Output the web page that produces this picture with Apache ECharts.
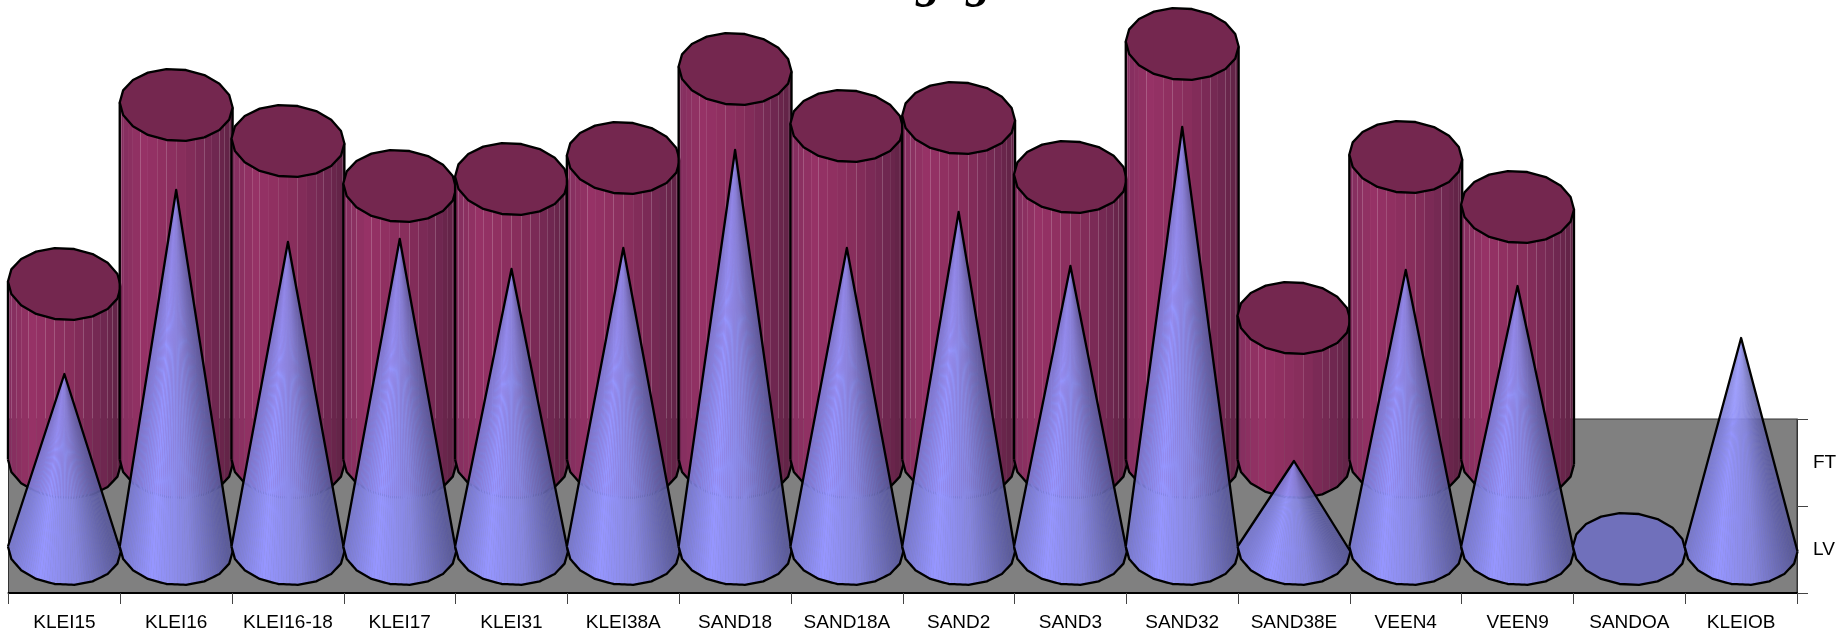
<!DOCTYPE html>
<html>
<head>
<meta charset="utf-8">
<title>FT and LV by site</title>
<script src="https://cdn.jsdelivr.net/npm/echarts@6/dist/echarts.min.js"></script>
<style>
  html, body { margin: 0; padding: 0; background: #fff; }
  #chart { width: 1848px; height: 636px; }
</style>
</head>
<body>
<div id="chart"></div>
<script>
// Sites along the front axis and the two rows along the depth axis
const categories = ['KLEI15', 'KLEI16', 'KLEI16-18', 'KLEI17', 'KLEI31', 'KLEI38A', 'SAND18', 'SAND18A',
  'SAND2', 'SAND3', 'SAND32', 'SAND38E', 'VEEN4', 'VEEN9', 'SANDOA', 'KLEIOB'];
const depthRows = ['LV', 'FT'];

// Values per row; null means the site has no mark in that row
const ftValues = [178, 357, 321, 276, 283, 304, 393, 336, 344, 285, 418, 144, 305, 255, null, null];
const lvValues = [175, 359, 307, 310, 280, 301, 399, 301, 337, 283, 422, 88, 279, 263, 0, 211];

const valueMax = 450;
const titleText = 'g  g';

function mix(a, b, t) {
  return a.map((v, i) => Math.round(v + (b[i] - v) * t));
}

// Piecewise-linear colour ramp across the width of a round mark
function ramp(stops, t) {
  for (let i = 1; i < stops.length; i++) {
    if (t <= stops[i][0]) {
      const s0 = stops[i - 1], s1 = stops[i];
      const c = mix(s0[1], s1[1], (t - s0[0]) / (s1[0] - s0[0]));
      return 'rgb(' + c.join(',') + ')';
    }
  }
  return 'rgb(' + stops[stops.length - 1][1].join(',') + ')';
}

function underlay(stops) {
  return new echarts.graphic.LinearGradient(0, 0, 1, 0,
    stops.map(s => ({ offset: s[0], color: 'rgb(' + s[1].join(',') + ')' })));
}

const cylinderStops = [
  [0, [130, 46, 94]], [0.22, [150, 50, 102]], [0.55, [136, 46, 92]], [0.82, [114, 40, 82]], [1, [94, 34, 68]]
];
const coneStops = [
  [0, [120, 120, 205]], [0.28, [150, 150, 255]], [0.62, [134, 134, 222]], [1, [88, 88, 150]]
];
const capRed = '#74274f';
const capBlue = '#7070bb';
const edge = { stroke: '#000', lineWidth: 2.3, lineJoin: 'round' };

const SIDES = 18;       // the round outlines are drawn as 18-sided polygons
const ASPECT = 0.637;   // vertical squash of the base ellipse
const TILT = 2.5;       // slight roll of the ellipse from the 3D view
const RADIUS = 0.505;   // base radius as a share of the category band

function ringPoint(cx, cy, rx, k) {
  const a = k * 2 * Math.PI / SIDES;
  return [cx + rx * Math.cos(a), cy + rx * ASPECT * Math.sin(a) + TILT * Math.cos(a)];
}

function ring(cx, cy, rx) {
  const pts = [];
  for (let k = 0; k < SIDES; k++) pts.push(ringPoint(cx, cy, rx, k));
  return pts;
}

// Front half of the ring, left to right, each side split into `perSide` pieces
function frontArc(cx, cy, rx, perSide) {
  const pts = [];
  for (let k = SIDES / 2; k > 0; k--) {
    const p0 = ringPoint(cx, cy, rx, k), p1 = ringPoint(cx, cy, rx, k - 1);
    for (let j = 0; j < perSide; j++) {
      const f = j / perSide;
      pts.push([p0[0] + (p1[0] - p0[0]) * f, p0[1] + (p1[1] - p0[1]) * f]);
    }
  }
  pts.push(ringPoint(cx, cy, rx, 0));
  return pts;
}

function poly(points, style) {
  return { type: 'polygon', silent: true, shape: { points }, style };
}
function line(points) {
  return { type: 'polyline', silent: true, shape: { points }, style: Object.assign({ fill: null }, edge) };
}

function renderCylinder(params, api) {
  if (isNaN(api.value(1))) return;
  const base = api.coord([api.value(0), 0]);
  const top = api.coord([api.value(0), api.value(1)]);
  const rx = api.size([1, 0])[0] * RADIUS;
  const h = base[1] - top[1];
  const arc = frontArc(base[0], base[1], rx, 2);
  const children = [];
  // the body underneath keeps the seams between the facets faint
  const bodyPts = arc.concat([[arc[arc.length - 1][0], arc[arc.length - 1][1] - h], [arc[0][0], arc[0][1] - h]]);
  children.push(poly(bodyPts, { fill: underlay(cylinderStops), opacity: 0.2 }));
  for (let i = 0; i < arc.length - 1; i++) {
    const a = arc[i], b = arc[i + 1];
    const t = ((a[0] + b[0]) / 2 - (base[0] - rx)) / (2 * rx);
    children.push(poly([a, b, [b[0], b[1] - h], [a[0], a[1] - h]], { fill: ramp(cylinderStops, t) }));
  }
  const l = arc[0], r = arc[arc.length - 1];
  children.push(line(arc));
  children.push(line([l, [l[0], l[1] - h]]));
  children.push(line([r, [r[0], r[1] - h]]));
  children.push(poly(ring(top[0], top[1], rx), Object.assign({ fill: capRed }, edge)));
  return { type: 'group', children };
}

function renderCone(params, api) {
  const base = api.coord([api.value(0), 0]);
  const apex = api.coord([api.value(0), api.value(1)]);
  const rx = api.size([1, 0])[0] * RADIUS;
  if (api.value(1) === 0) {
    return poly(ring(base[0], base[1], rx), Object.assign({ fill: capBlue }, edge));
  }
  const arc = frontArc(base[0], base[1], rx, 7);
  const children = [];
  children.push(poly(arc.concat([apex]), { fill: underlay(coneStops), opacity: 0.6 }));
  for (let i = 0; i < arc.length - 1; i++) {
    const a = arc[i], b = arc[i + 1];
    const t = ((a[0] + b[0]) / 2 - (base[0] - rx)) / (2 * rx);
    children.push(poly([a, b, apex], { fill: ramp(coneStops, t) }));
  }
  children.push(line(arc));
  children.push(line([arc[0], apex, arc[arc.length - 1]]));
  return { type: 'group', children };
}

const labelFont = { fontFamily: 'Liberation Sans', fontSize: 19, color: '#000' };
const hiddenX = { type: 'category', data: categories, show: false, boundaryGap: true };
const hiddenY = { type: 'value', min: 0, max: valueMax, show: false };
const plotLeft = 8.5, plotWidth = 1788.5;

const chart = echarts.init(document.getElementById('chart'), null, { renderer: 'canvas' });
chart.setOption({
  animation: false,
  backgroundColor: '#fff',
  title: {
    text: titleText,
    left: 954,
    textAlign: 'center',
    top: -42,
    padding: 0,
    textStyle: { fontFamily: 'Liberation Serif', fontStyle: 'italic', fontWeight: 'bold', fontSize: 50, color: '#000' }
  },
  grid: [
    // the floor, carrying the visible axes
    { left: plotLeft, width: plotWidth, top: 419, height: 174, show: true, backgroundColor: '#808080', borderWidth: 1, borderColor: '#333' },
    // value scales standing on the FT and LV rows of the floor
    { left: plotLeft, width: plotWidth, top: 12, height: valueMax },
    { left: plotLeft, width: plotWidth, top: 99, height: valueMax }
  ],
  xAxis: [
    {
      gridIndex: 0, type: 'category', data: categories, boundaryGap: true,
      axisLine: { lineStyle: { color: '#000', width: 2 } },
      axisTick: { show: true, length: 11, alignWithLabel: false, interval: 0, lineStyle: { color: '#444', width: 1 } },
      axisLabel: Object.assign({ interval: 0, margin: 20 }, labelFont)
    },
    Object.assign({ gridIndex: 1 }, hiddenX),
    Object.assign({ gridIndex: 2 }, hiddenX)
  ],
  yAxis: [
    {
      gridIndex: 0, type: 'category', data: depthRows, position: 'right', boundaryGap: true,
      axisLine: { show: true, lineStyle: { color: '#333', width: 1 } },
      axisTick: { show: true, length: 11, alignWithLabel: false, interval: 0, lineStyle: { color: '#444', width: 1 } },
      axisLabel: Object.assign({ margin: 16 }, labelFont)
    },
    Object.assign({ gridIndex: 1 }, hiddenY),
    Object.assign({ gridIndex: 2 }, hiddenY)
  ],
  series: [
    {
      name: 'FT', type: 'custom', xAxisIndex: 1, yAxisIndex: 1, silent: true, clip: false,
      renderItem: renderCylinder, encode: { x: 0, y: 1 },
      data: ftValues.map((v, i) => [i, v]), z: 2
    },
    {
      name: 'LV', type: 'custom', xAxisIndex: 2, yAxisIndex: 2, silent: true, clip: false,
      renderItem: renderCone, encode: { x: 0, y: 1 },
      data: lvValues.map((v, i) => [i, v]), z: 3
    }
  ]
});
</script>
</body>
</html>
